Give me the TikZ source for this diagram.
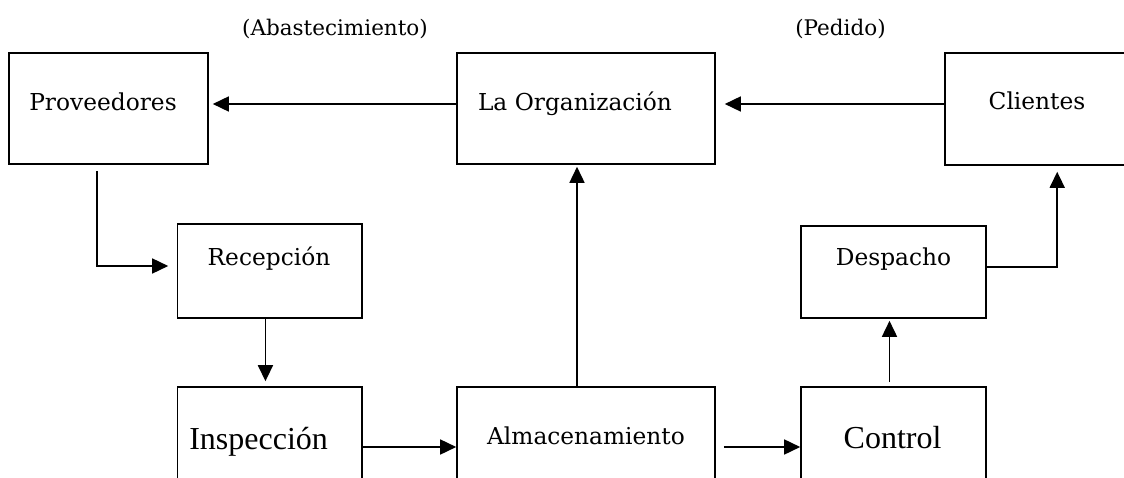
\documentclass[tikz,border=0pt]{standalone}
\usepackage{fontspec}
\setmainfont{DejaVu Serif}
\newfontfamily\timesfont{Liberation Serif}
\usetikzlibrary{arrows.meta,calc}

\tikzset{
  box/.style={draw, line width=1.6pt, rectangle, inner sep=0pt},
  txt/.style={anchor=base, inner sep=0pt, font=\fontsize{23.3}{28}\selectfont},
  bigtxt/.style={anchor=base, inner sep=0pt, font=\timesfont\fontsize{32}{38}\selectfont},
  lbl/.style={anchor=base, inner sep=0pt, font=\fontsize{21.5}{26}\selectfont},
  flow/.style={line width=1.6pt, -{Triangle[length=16pt,width=15pt]}},
}

\begin{document}
\begin{tikzpicture}[x=1pt, y=-1pt]
\useasboundingbox (0,0) rectangle (1124,478);
\clip (0,0) rectangle (1124,478);

% top row
\node[box, minimum width=199pt, minimum height=111pt] (prov) at (108.5,108.5) {};
\node[box, minimum width=258pt, minimum height=111pt] (org)  at (586,108.5) {};
\node[box, minimum width=255pt, minimum height=112pt] (cli)  at (1072.5,109) {};
% middle row
\node[box, minimum width=184.5pt, minimum height=94pt] (rec)  at (269.75,271) {};
\node[box, minimum width=185pt, minimum height=92pt] (desp) at (893.5,272) {};
% bottom row (runs past the lower edge)
\node[box, minimum width=184.5pt, minimum height=120pt] (insp) at (269.75,447) {};
\node[box, minimum width=258pt, minimum height=120pt] (alm)  at (586,447) {};
\node[box, minimum width=185pt, minimum height=120pt] (ctrl) at (893.5,447) {};

% texts
\node[txt] (tprov) at (103,111) {Proveedores};
\node[txt] (torg)  at (575,111) {La Organización};
\node[txt] (tcli)  at (1037,110) {Clientes};
\node[txt] (trec)  at (269,266) {Recepción};
\node[txt] (tdesp) at (893.5,266) {Despacho};
\node[txt] (talm)  at (586,444) {Almacenamiento};
\node[bigtxt] (tinsp) at (258.6,449) {Inspección};
\node[bigtxt] (tctrl) at (892.6,448.6) {Control};
\node[lbl] (labas) at (335,35.5) {(Abastecimiento)};
\node[lbl] (lped)  at (840.5,35.5) {(Pedido)};

% connectors
\draw[flow, shorten >=4pt] ($(org.west)+(0,-4.5)$) -- ($(prov.east)+(0,-4.5)$);
\draw[flow, shorten >=9pt] ($(cli.west)+(0,-5)$) -- ($(org.east)+(0,-4.5)$);
\draw[flow, shorten >=8.5pt] ($(prov.south west)+(88.5,6)$) |- ($(rec.west)+(0,-5)$);
\draw[flow, shorten >=5pt] ($(rec.south)+(-4.3,0)$) -- ($(insp.north)+(-4.3,0)$);
\draw[flow] (insp.east) -- (alm.west);
\draw[flow, shorten >=2pt] ($(alm.north)+(-9,0)$) -- ($(org.south)+(-9,0)$);
\draw[flow, shorten <=8pt] (alm.east) -- (ctrl.west);
\draw[flow, shorten <=4pt, shorten >=2pt] ($(ctrl.north)+(-4,0)$) -- ($(desp.south)+(-4,0)$);
\draw[flow, shorten >=6pt] ($(desp.east)+(0,-5)$) -| ($(cli.south west)+(113,0)$);
\end{tikzpicture}
\end{document}
